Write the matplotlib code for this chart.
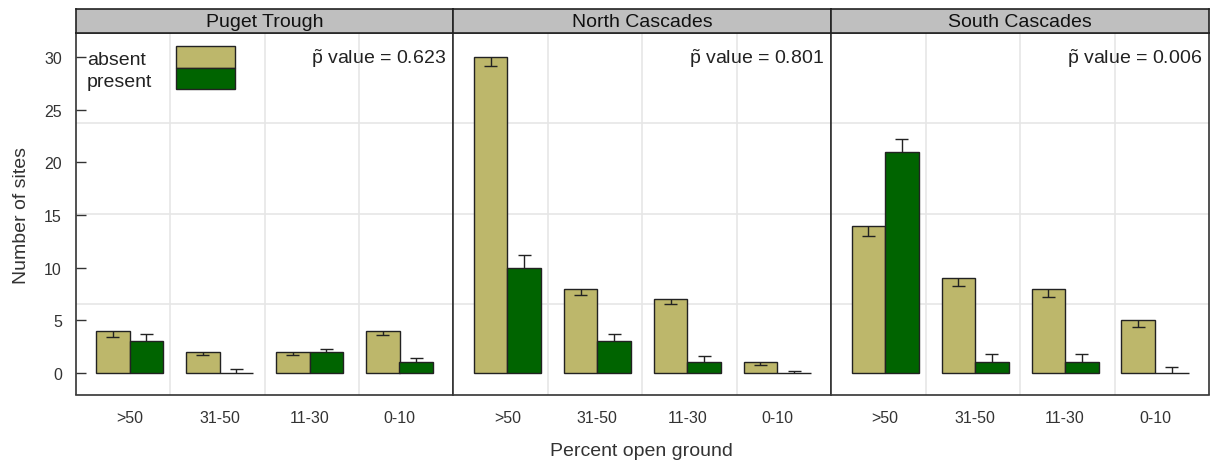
import matplotlib
matplotlib.use("Agg")
import matplotlib.pyplot as plt
from matplotlib.patches import Rectangle
import numpy as np

plt.rcParams['font.family'] = ['Liberation Sans', 'DejaVu Sans']
plt.rcParams['mathtext.fontset'] = 'custom'
plt.rcParams['mathtext.rm'] = 'Liberation Sans'
plt.rcParams['mathtext.it'] = 'Liberation Sans'

regions = ["Puget Trough", "North Cascades", "South Cascades"]
categories = [">50", "31-50", "11-30", "0-10"]
p_values = ["0.623", "0.801", "0.006"]

absent = [[4, 2, 2, 4], [30, 8, 7, 1], [14, 9, 8, 5]]
present = [[3, 0, 2, 1], [10, 3, 1, 0], [21, 1, 1, 0]]
# whisker end values (absent: downward, present: upward)
absent_low = [[3.42, 1.71, 1.71, 3.55], [29.15, 7.44, 6.59, 0.72], [13.05, 8.3, 7.19, 4.4]]
present_high = [[3.67, 0.34, 2.31, 1.45], [11.2, 3.67, 1.58, 0.22], [22.24, 1.83, 1.83, 0.6]]

col_absent = "#BDB76B"
col_present = "#006400"
grid_col = "#E6E6E6"
border_col = "#333333"
text_col = "#333333"

W, H = 1216, 464
fig = plt.figure(figsize=(W / 100, H / 100), dpi=100)

left_px, right_px = 75.7, 1209.0
bottom_px, top_px, strip_top_px = 395.5, 33.5, 9.5
pw = (right_px - left_px) / 3

xlim = (0.4, 4.6)
ylim = (-2.06, 32.35)
bw = 0.373
x = np.arange(1, len(categories) + 1)

for i, reg in enumerate(regions):
    l = (left_px + i * pw) / W
    b = 1 - bottom_px / H
    w = pw / W
    h = (bottom_px - top_px) / H
    ax = fig.add_axes([l, b, w, h])
    ax.set_xlim(*xlim)
    ax.set_ylim(*ylim)
    # grid dividing panel into quarters
    for k in range(1, 4):
        ax.axvline(xlim[0] + (xlim[1] - xlim[0]) * k / 4, color=grid_col, lw=1.2, zorder=0)
        ax.axhline(ylim[0] + (ylim[1] - ylim[0]) * k / 4, color=grid_col, lw=1.2, zorder=0)
    ax.bar(x - bw / 2, absent[i], width=bw, color=col_absent, edgecolor="#222222", lw=1.0, zorder=2)
    ax.bar(x + bw / 2, present[i], width=bw, color=col_present, edgecolor="#222222", lw=1.0, zorder=2)
    cap = 0.072
    xa = x - bw / 2
    xp = x + bw / 2
    ax.vlines(xa, absent_low[i], absent[i], color="#222222", lw=1.0, zorder=3)
    ax.hlines(absent_low[i], xa - cap, xa + cap, color="#222222", lw=1.0, zorder=3)
    ax.vlines(xp, present[i], present_high[i], color="#222222", lw=1.0, zorder=3)
    ax.hlines(present_high[i], xp - cap, xp + cap, color="#222222", lw=1.0, zorder=3)

    ax.set_xticks(x)
    ax.set_xticklabels(categories, fontsize=11.5, color=text_col)
    ax.tick_params(axis='x', length=0, pad=11)
    if i == 0:
        ax.set_yticks([0, 5, 10, 15, 20, 25, 30])
        ax.tick_params(axis='y', direction='in', length=7, width=1, color=border_col,
                       labelsize=11.5, labelcolor=text_col, pad=10)
    else:
        ax.set_yticks([])
    for s in ax.spines.values():
        s.set_color(border_col)
        s.set_linewidth(1.2)

    ax.text(0.981, 0.917, r"$\tilde{\mathrm{p}}$ value = " + p_values[i], transform=ax.transAxes,
            ha='right', va='baseline', fontsize=14, color="#222222")

    if i == 0:
        ax.text(0.03, 0.925, "absent", transform=ax.transAxes, ha='left', va='center',
                fontsize=14, color="#222222")
        ax.text(0.03, 0.865, "present", transform=ax.transAxes, ha='left', va='center',
                fontsize=14, color="#222222")
        x0, x1 = 0.2668, 0.4208
        ytop, ymid, ybot = 0.9633, 0.9006, 0.8434
        ax.add_patch(Rectangle((x0, ymid), x1 - x0, ytop - ymid, transform=ax.transAxes,
                               facecolor=col_absent, edgecolor="#222222", lw=1.0, zorder=4))
        ax.add_patch(Rectangle((x0, ybot), x1 - x0, ymid - ybot, transform=ax.transAxes,
                               facecolor=col_present, edgecolor="#222222", lw=1.0, zorder=4))

    # strip
    sax = fig.add_axes([l, 1 - top_px / H, w, (top_px - strip_top_px) / H])
    sax.set_facecolor("#BFBFBF")
    sax.set_xticks([])
    sax.set_yticks([])
    for s in sax.spines.values():
        s.set_color("#222222")
        s.set_linewidth(1.2)
    sax.text(0.5, 0.45, reg, transform=sax.transAxes, ha='center', va='center',
             fontsize=14, color="#111111")

fig.text(22 / W, 1 - 215 / H, "Number of sites", rotation=90, ha='center', va='center',
         fontsize=14, color=text_col)
fig.text(641 / W, 1 - 452 / H, "Percent open ground", ha='center', va='center',
         fontsize=14, color=text_col)

fig.savefig("out.png", dpi=100)
